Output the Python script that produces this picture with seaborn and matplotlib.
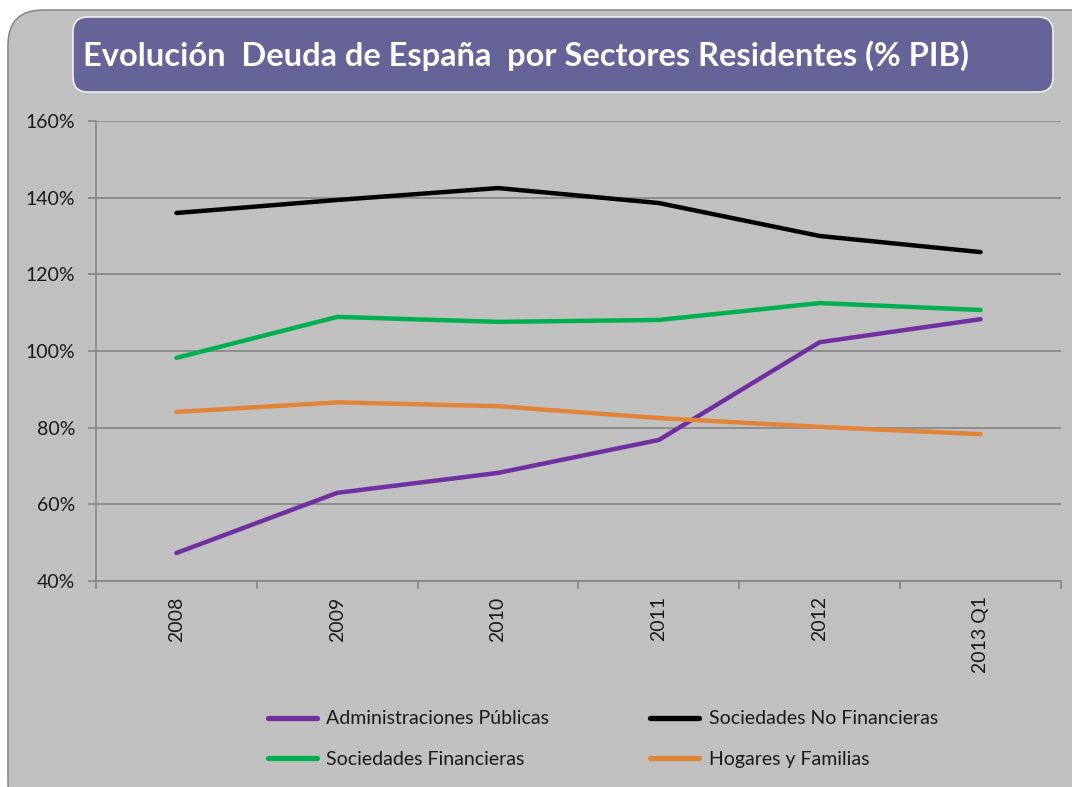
import numpy as np
import pandas as pd
import matplotlib
matplotlib.use("Agg")
import matplotlib.pyplot as plt
import seaborn as sns
from matplotlib.patches import FancyBboxPatch
from matplotlib.ticker import FixedLocator, FuncFormatter

# ---------------- data ----------------
categories = ["2008", "2009", "2010", "2011", "2012", "2013 Q1"]
admin_publicas = [47.3, 63.0, 68.2, 76.8, 102.3, 108.3]
soc_no_financieras = [136.0, 139.4, 142.5, 138.6, 130.0, 125.8]
soc_financieras = [98.2, 108.9, 107.6, 108.1, 112.5, 110.7]
hogares_familias = [84.1, 86.6, 85.6, 82.5, 80.2, 78.3]
series_names = ["Administraciones Públicas", "Sociedades Financieras",
                "Sociedades No Financieras", "Hogares y Familias"]
y_ticks = [40, 60, 80, 100, 120, 140, 160]
title = "Evolución  Deuda de España  por Sectores Residentes (% PIB)"

series_values = [admin_publicas, soc_financieras, soc_no_financieras, hogares_familias]
colors = ["#7030a0", "#00b050", "#000000", "#e0843a"]

rows = []
for name, vals in zip(series_names, series_values):
    for i, (c, v) in enumerate(zip(categories, vals)):
        rows.append({"pos": i, "cat": c, "serie": name, "valor": v})
df = pd.DataFrame(rows)

# ---------------- style ----------------
sns.set_style("white")
plt.rcParams["font.family"] = ["Lato", "DejaVu Sans"]

W, H = 10.72, 7.87
fig = plt.figure(figsize=(W, H), dpi=100)
fig.patch.set_facecolor("white")

# outer grey rounded panel
outer = FancyBboxPatch((0.08, -0.3), 11.0, 7.77 + 0.3,
                       boxstyle="round,pad=0,rounding_size=0.35",
                       transform=fig.dpi_scale_trans, facecolor="#c0c0c0",
                       edgecolor="#8a8a8a", linewidth=1.2, zorder=-10)
fig.add_artist(outer)

# title box
tbox = FancyBboxPatch((0.73, (787 - 92) / 100), 9.80, 0.75,
                      boxstyle="round,pad=0,rounding_size=0.15",
                      transform=fig.dpi_scale_trans, facecolor="#656398",
                      edgecolor="#f0f0f0", linewidth=1.2, zorder=-5)
fig.add_artist(tbox)
fig.text(83 / 1072, 1 - 56 / 787, title, color="white", fontsize=23.5,
         fontweight="bold", ha="left", va="center")

# axes
ax = fig.add_axes([96 / 1072, 1 - 581 / 787, 965 / 1072, 460 / 787])
ax.set_facecolor("none")

sns.lineplot(data=df, x="pos", y="valor", hue="serie", hue_order=series_names,
             palette=colors, linewidth=3.2, ax=ax, legend=False, sort=False)
for line in ax.lines:
    line.set_solid_capstyle("round")
    line.set_solid_joinstyle("round")

ax.set_xlim(-0.5, len(categories) - 0.5)
ax.set_ylim(40, 160)
ax.yaxis.set_major_locator(FixedLocator(y_ticks))
ax.yaxis.set_major_formatter(FuncFormatter(lambda v, p: f"{v:.0f}%"))
ax.grid(axis="y", color="#868686", linewidth=1.2)
ax.set_axisbelow(True)

ax.set_xticks(range(len(categories)))
ax.set_xticklabels(categories, rotation=90, va="top", ha="center")
ax.set_xticks(np.arange(-0.5, len(categories), 1.0), minor=True)
ax.tick_params(axis="x", which="major", length=0, pad=11, labelsize=14,
               labelcolor="#1a1a1a")
ax.tick_params(axis="x", which="minor", length=5.5, width=1.2, color="#868686",
               direction="out", bottom=True)
ax.tick_params(axis="y", which="major", length=6, width=1.2, color="#868686",
               direction="out", left=True, pad=9, labelsize=14,
               labelcolor="#1a1a1a")
ax.set_xlabel("")
ax.set_ylabel("")

for s in ["top", "right"]:
    ax.spines[s].set_visible(False)
for s in ["left", "bottom"]:
    ax.spines[s].set_color("#868686")
    ax.spines[s].set_linewidth(1.2)

# legend
handles = [plt.Line2D([], [], color=c, linewidth=3.8, solid_capstyle="round")
           for c in colors]
fig.legend(handles, series_names, ncol=2, loc="center",
           bbox_to_anchor=(603 / 1072, 1 - 739 / 787), frameon=False,
           fontsize=14, handlelength=2.5, handletextpad=0.5,
           columnspacing=5.2, labelspacing=1.2, labelcolor="#1a1a1a")

fig.savefig("out.png", dpi=100)
